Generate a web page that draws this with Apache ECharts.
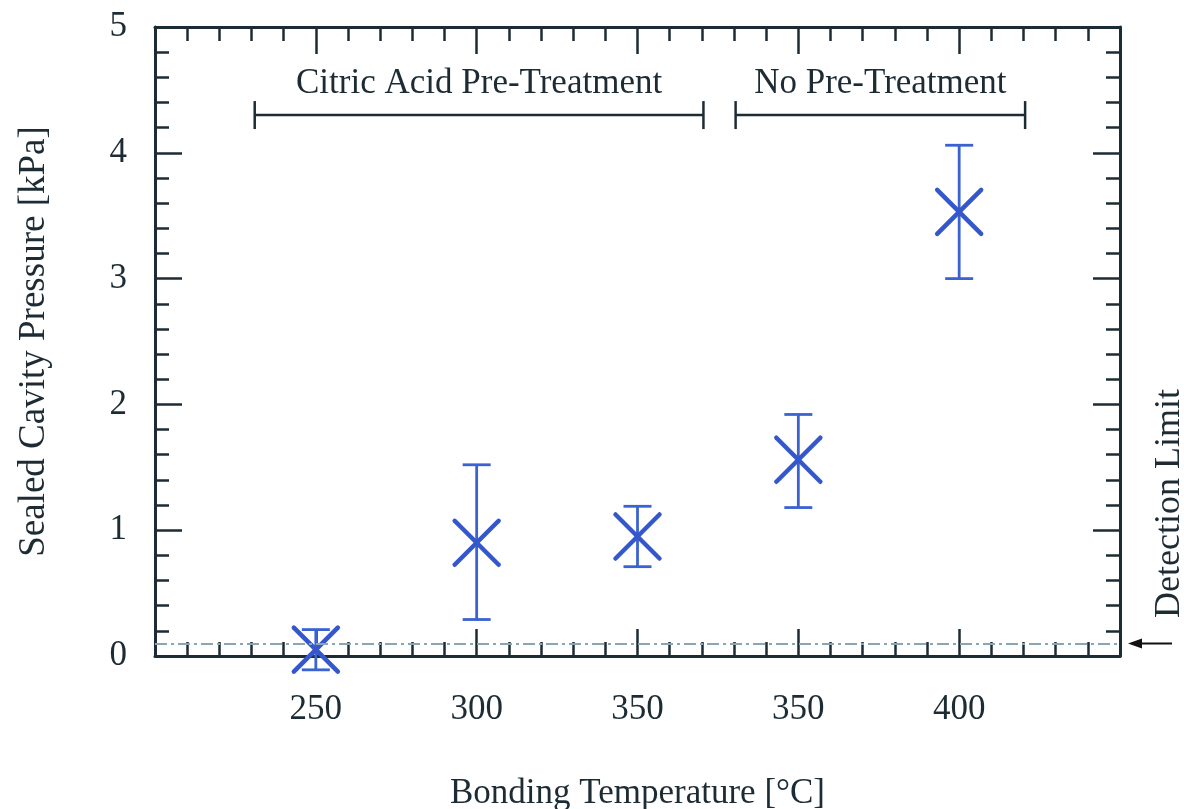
<!DOCTYPE html>
<html>
<head>
<meta charset="utf-8">
<script src="https://cdn.jsdelivr.net/npm/echarts@6/dist/echarts.min.js"></script>
<style>
  html, body { margin: 0; padding: 0; background: #fff; }
  #chart { width: 1184px; height: 809px; }
</style>
</head>
<body>
<div id="chart"></div>
<script>
// bonding temperature categories along the x axis (positions 0..4)
const categories = ["250", "300", "350", "350", "400"];
const pressure = [0.05, 0.90, 0.95, 1.56, 3.53];   // kPa
const errLow = [-0.11, 0.29, 0.71, 1.18, 3.00];
const errHigh = [0.21, 1.52, 1.19, 1.92, 4.06];
const detectionLimit = 0.1;

// treatment groups shown as brackets above the data
const groupNames = ["Citric Acid Pre-Treatment", "No Pre-Treatment"];
const groupStart = [-0.38, 2.61];
const groupEnd = [2.41, 4.41];
const groupLevel = [4.3, 4.3];

const yTicks = [0, 1, 2, 3, 4, 5];

const ink = "#1d2c34";
const blue = "#3a62d2";
const font = "Liberation Serif";

const chart = echarts.init(document.getElementById("chart"));

const axisCommon = {
  type: "value",
  axisLine: { show: true, onZero: false, lineStyle: { color: ink, width: 3 } },
  axisTick: { show: true, inside: true, length: 27, lineStyle: { color: ink, width: 2.5 } },
  minorTick: { show: true, splitNumber: 5, length: 14, lineStyle: { color: ink, width: 2.5 } },
  splitLine: { show: false },
  minorSplitLine: { show: false }
};

const option = {
  animation: false,
  backgroundColor: "#fff",
  grid: { left: 155, right: 64, top: 27, bottom: 153, outerBoundsMode: "none", containLabel: false },
  xAxis: [
    Object.assign({}, axisCommon, {
      position: "bottom",
      min: -1, max: 5, interval: 1,
      axisLabel: {
        margin: 36, fontFamily: font, fontSize: 35, color: ink,
        formatter: v => (v >= 0 && v < categories.length ? categories[v] : "")
      },
      name: "Bonding Temperature [°C]",
      nameLocation: "middle",
      nameGap: 120,
      nameTextStyle: { fontFamily: font, fontSize: 35, color: ink }
    }),
    Object.assign({}, axisCommon, {
      position: "top",
      min: -1, max: 5, interval: 1,
      axisLabel: { show: false }
    })
  ],
  yAxis: [
    Object.assign({}, axisCommon, {
      position: "left",
      min: yTicks[0], max: yTicks[yTicks.length - 1], interval: 1,
      axisLabel: { margin: 28, fontFamily: font, fontSize: 35, color: ink },
      name: "Sealed Cavity Pressure [kPa]",
      nameLocation: "middle",
      nameGap: 102,
      nameTextStyle: { fontFamily: font, fontSize: 37, color: ink }
    }),
    Object.assign({}, axisCommon, {
      position: "right",
      min: yTicks[0], max: yTicks[yTicks.length - 1], interval: 1,
      axisLabel: { show: false }
    })
  ],
  series: [
    {
      // detection limit line, arrow and label
      type: "custom",
      clip: false,
      silent: true,
      data: [[5, detectionLimit]],
      markLine: {
        silent: true,
        symbol: "none",
        label: { show: false },
        lineStyle: { color: "#8aa6b4", width: 2, type: [12, 4, 3, 4] },
        data: [{ yAxis: detectionLimit }]
      },
      renderItem: (params, api) => {
        const p = api.coord([api.value(0), api.value(1)]);
        return {
          type: "group",
          children: [
            { type: "line", shape: { x1: p[0] + 18, y1: p[1], x2: p[0] + 52, y2: p[1] },
              style: { stroke: "#111", lineWidth: 2 } },
            { type: "polygon", shape: { points: [[p[0] + 8, p[1]], [p[0] + 22, p[1] - 5], [p[0] + 22, p[1] + 5]] },
              style: { fill: "#111" } },
            { type: "text", x: p[0] + 50, y: p[1] - 140, rotation: Math.PI / 2,
              style: { text: "Detection Limit", fontFamily: font, fontSize: 36, fill: ink,
                       align: "center", verticalAlign: "middle" } }
          ]
        };
      }
    },
    {
      // treatment group brackets
      type: "custom",
      clip: false,
      silent: true,
      data: groupNames.map((n, i) => [groupStart[i], groupEnd[i], groupLevel[i], n]),
      renderItem: (params, api) => {
        const a = api.coord([api.value(0), api.value(2)]);
        const b = api.coord([api.value(1), api.value(2)]);
        const st = { stroke: ink, lineWidth: 2.5 };
        return {
          type: "group",
          children: [
            { type: "line", shape: { x1: a[0], y1: a[1], x2: b[0], y2: b[1] }, style: st },
            { type: "line", shape: { x1: a[0], y1: a[1] - 14, x2: a[0], y2: a[1] + 14 }, style: st },
            { type: "line", shape: { x1: b[0], y1: b[1] - 14, x2: b[0], y2: b[1] + 14 }, style: st },
            { type: "text", x: (a[0] + b[0]) / 2, y: a[1] - 31,
              style: { text: groupNames[params.dataIndex], fontFamily: font, fontSize: 35, fill: ink,
                       align: "center", verticalAlign: "middle" } }
          ]
        };
      }
    },
    {
      // mean values with error bars, drawn as X markers
      type: "custom",
      clip: false,
      silent: true,
      data: pressure.map((v, i) => [i, v, errLow[i], errHigh[i]]),
      renderItem: (params, api) => {
        const c = api.coord([api.value(0), api.value(1)]);
        const lo = api.coord([api.value(0), api.value(2)]);
        const hi = api.coord([api.value(0), api.value(3)]);
        const cap = 14, s = 22;
        const bar = { stroke: blue, lineWidth: 2.8 };
        const mk = { stroke: "#3457cc", lineWidth: 4.5, lineCap: "round" };
        return {
          type: "group",
          children: [
            { type: "line", shape: { x1: lo[0], y1: lo[1], x2: hi[0], y2: hi[1] }, style: bar },
            { type: "line", shape: { x1: lo[0] - cap, y1: lo[1], x2: lo[0] + cap, y2: lo[1] }, style: bar },
            { type: "line", shape: { x1: hi[0] - cap, y1: hi[1], x2: hi[0] + cap, y2: hi[1] }, style: bar },
            { type: "line", shape: { x1: c[0] - s, y1: c[1] - s, x2: c[0] + s, y2: c[1] + s }, style: mk },
            { type: "line", shape: { x1: c[0] - s, y1: c[1] + s, x2: c[0] + s, y2: c[1] - s }, style: mk }
          ]
        };
      }
    }
  ]
};

chart.setOption(option);
</script>
</body>
</html>
